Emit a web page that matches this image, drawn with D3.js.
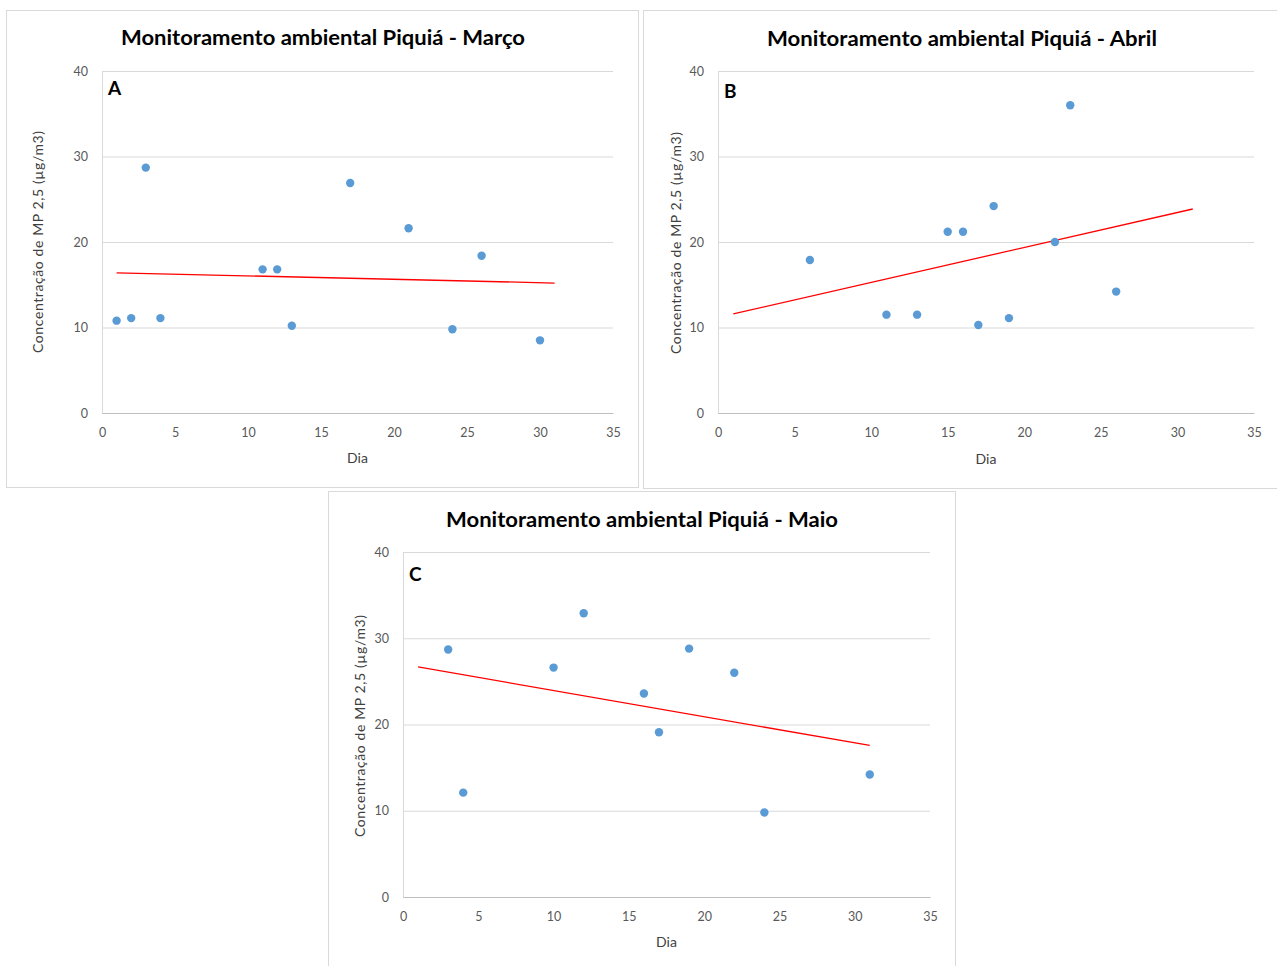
<!DOCTYPE html>
<html><head><meta charset="utf-8">
<script src="https://cdn.jsdelivr.net/npm/d3@7"></script>
<style>body{margin:0;background:#fff}svg{display:block}</style>
</head><body>
<script>
// ---- data ----
const titles = ["Monitoramento ambiental Piquiá - Março", "Monitoramento ambiental Piquiá - Abril", "Monitoramento ambiental Piquiá - Maio"];
const panelLetters = ["A", "B", "C"];
const daysMarco = [1, 2, 3, 4, 11, 12, 13, 17, 21, 24, 26, 30];
const pmMarco   = [10.8, 11.1, 28.7, 11.1, 16.8, 16.8, 10.2, 26.9, 21.6, 9.8, 18.4, 8.5];
const daysAbril = [6, 11, 13, 15, 16, 17, 18, 19, 22, 23, 26];
const pmAbril   = [17.9, 11.5, 11.5, 21.2, 21.2, 10.3, 24.2, 11.1, 20.0, 36.0, 14.2];
const daysMaio  = [3, 4, 10, 12, 16, 17, 19, 22, 24, 31];
const pmMaio    = [28.7, 12.1, 26.6, 32.9, 23.6, 19.1, 28.8, 26.0, 9.8, 14.2];
const xTicks = [0, 5, 10, 15, 20, 25, 30, 35];
const yTicks = [0, 10, 20, 30, 40];
const trendRange = [1, 31];
const xLabel = "Dia";
const yLabel = "Concentração de MP 2,5 (µg/m3)";

// ---- layout ----
const panels = [
  {frame:[6,10,632,477], l:102, r:613, t:71, b:413, titleX:323, titleY:45, titleW:404, ylabX:43, ylabY:242, xlabY:463, letterDy:24, days:daysMarco, pm:pmMarco},
  {frame:[643,10,640,478], l:718, r:1254, t:71, b:413, titleX:962, titleY:46, titleW:390, ylabX:681, ylabY:243, xlabY:464, letterDy:27, days:daysAbril, pm:pmAbril},
  {frame:[328,491,627,480], l:403, r:930, t:552, b:897, titleX:642, titleY:527, titleW:392, ylabX:365, ylabY:726, xlabY:947, letterDy:29, days:daysMaio, pm:pmMaio}
];

const svg = d3.select("body").append("svg").attr("width",1277).attr("height",966);
const font = "Lato, 'Open Sans', sans-serif";

panels.forEach((p, i) => {
  const g = svg.append("g");
  g.append("rect").attr("x",p.frame[0]+0.5).attr("y",p.frame[1]+0.5)
    .attr("width",p.frame[2]).attr("height",p.frame[3])
    .attr("fill","#fff").attr("stroke","#d9d9d9").attr("stroke-width",1);

  const x = d3.scaleLinear().domain([0,35]).range([p.l,p.r]);
  const y = d3.scaleLinear().domain([0,40]).range([p.b,p.t]);

  // grid + y axis
  const yAx = d3.axisLeft(y).tickValues(yTicks).tickSize(-(p.r-p.l)).tickPadding(14).tickFormat(d3.format("d"));
  const ya = g.append("g").attr("transform",`translate(${p.l},0)`).call(yAx);
  ya.select(".domain").attr("stroke","#d9d9d9");
  ya.selectAll(".tick line").attr("stroke","#d9d9d9");
  ya.selectAll(".tick text").attr("fill","#595959").attr("font-family",font).attr("font-size",12.5);

  const xAx = d3.axisBottom(x).tickValues(xTicks).tickSize(0).tickPadding(15).tickFormat(d3.format("d"));
  const xa = g.append("g").attr("transform",`translate(0,${p.b})`).call(xAx);
  xa.select(".domain").attr("stroke","#bfbfbf");
  xa.selectAll(".tick text").attr("fill","#595959").attr("font-family",font).attr("font-size",12.5);

  // title
  g.append("text").attr("x",p.titleX).attr("y",p.titleY).attr("text-anchor","middle")
    .attr("font-family",font).attr("font-weight","bold").attr("font-size",21.5).attr("fill","#000")
    .attr("textLength",p.titleW).attr("lengthAdjust","spacingAndGlyphs")
    .text(titles[i]);
  // panel letter
  g.append("text").attr("x",p.l+6).attr("y",p.t+p.letterDy)
    .attr("font-family",font).attr("font-weight","bold").attr("font-size",19).attr("fill","#000")
    .text(panelLetters[i]);
  // axis labels
  g.append("text").attr("x",(p.l+p.r)/2).attr("y",p.xlabY).attr("text-anchor","middle")
    .attr("font-family",font).attr("font-size",14).attr("fill","#404040").text(xLabel);
  g.append("text").attr("transform",`translate(${p.ylabX},${p.ylabY}) rotate(-90)`).attr("text-anchor","middle")
    .attr("font-family",font).attr("font-size",14).attr("fill","#404040")
    .attr("textLength",222).attr("lengthAdjust","spacing").text(yLabel);

  // regression trendline
  const n = p.days.length;
  const mx = d3.mean(p.days), my = d3.mean(p.pm);
  let sxy = 0, sxx = 0;
  for (let k=0;k<n;k++){ sxy += (p.days[k]-mx)*(p.pm[k]-my); sxx += (p.days[k]-mx)**2; }
  const slope = sxy/sxx, icpt = my - slope*mx;
  const tl = trendRange.map(d => [d, icpt + slope*d]);
  g.append("path").datum(tl)
    .attr("d", d3.line().x(d=>x(d[0])).y(d=>y(d[1])))
    .attr("stroke","#ff0000").attr("stroke-width",1.3).attr("fill","none");

  // points
  g.selectAll("circle.pt").data(p.days.map((d,k)=>[d,p.pm[k]])).join("circle")
    .attr("cx",d=>x(d[0])).attr("cy",d=>y(d[1])).attr("r",4.2).attr("fill","#5b9bd5");
});
</script>
</body></html>
